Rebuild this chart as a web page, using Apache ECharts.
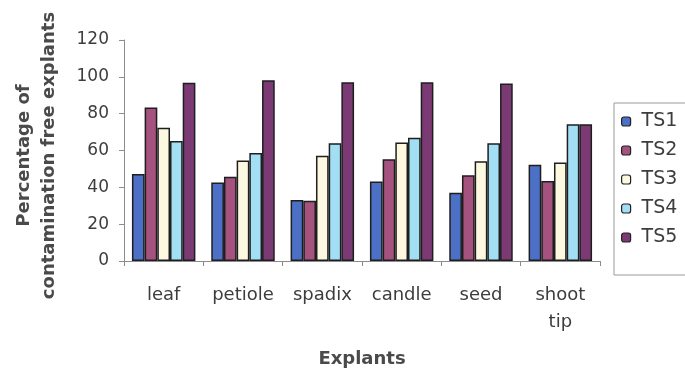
<!DOCTYPE html>
<html>
<head>
<meta charset="utf-8">
<script src="https://cdn.jsdelivr.net/npm/echarts@6/dist/echarts.min.js"></script>
<style>
  html, body { margin: 0; padding: 0; background: #ffffff; }
  #chart { width: 685px; height: 371px; }
</style>
</head>
<body>
<div id="chart"></div>
<script>
// Explant types on the x axis
const categories = ['leaf', 'petiole', 'spadix', 'candle', 'seed', 'shoot\ntip'];

// Percentage of contamination-free explants per sterilisation treatment
const ts1 = [47.3, 42.6, 33.1, 43.1, 37.1, 52.2];
const ts2 = [83.3, 45.8, 32.7, 55.3, 46.6, 43.5];
const ts3 = [72.4, 54.6, 57.1, 64.4, 54.2, 53.5];
const ts4 = [65.1, 58.6, 64.0, 66.9, 64.0, 74.2];
const ts5 = [96.8, 98.2, 97.1, 97.1, 96.4, 74.2];

const yTicks = [0, 20, 40, 60, 80, 100, 120];

const seriesNames = ['TS1', 'TS2', 'TS3', 'TS4', 'TS5'];
const seriesData = [ts1, ts2, ts3, ts4, ts5];
const seriesColors = ['#4b70c6', '#a5527e', '#fdf9e0', '#a2def4', '#7b3a74'];

const textColor = '#3d3d3d';
const fontFamily = '"DejaVu Sans", sans-serif';

const chart = echarts.init(document.getElementById('chart'), null, { renderer: 'canvas' });

chart.setOption({
  backgroundColor: '#ffffff',
  animation: false,
  textStyle: { fontFamily: fontFamily, color: textColor },
  grid: { left: 124, right: 85, top: 40, bottom: 110, containLabel: false, outerBoundsMode: 'none' },
  legend: {
    orient: 'vertical',
    left: 614,
    top: 103,
    width: 120,
    padding: [9, 60, 28, 7],
    itemWidth: 9,
    itemHeight: 9,
    itemGap: 10,
    borderColor: '#9a9a9a',
    borderWidth: 1,
    data: seriesNames,
    textStyle: { fontFamily: fontFamily, fontSize: 19, color: textColor, padding: [0, 0, 0, 6] },
    itemStyle: { borderColor: '#222', borderWidth: 1.2 }
  },
  xAxis: {
    type: 'category',
    data: categories,
    name: 'Explants',
    nameLocation: 'middle',
    nameGap: 89,
    nameTextStyle: { fontFamily: fontFamily, fontSize: 18, fontWeight: 'bold', color: '#4a4a4a' },
    axisLine: { lineStyle: { color: '#8c8c8c', width: 1 } },
    axisTick: { show: true, alignWithLabel: false, length: 5, lineStyle: { color: '#8c8c8c' } },
    axisLabel: { interval: 0, hideOverlap: false, fontFamily: fontFamily, fontSize: 18, color: textColor, margin: 21, lineHeight: 27 }
  },
  yAxis: {
    type: 'value',
    min: yTicks[0],
    max: yTicks[yTicks.length - 1],
    interval: yTicks[1] - yTicks[0],
    name: 'Percentage of\ncontamination free explants',
    nameLocation: 'middle',
    nameRotate: 90,
    nameGap: 62,
    nameTextStyle: { fontFamily: fontFamily, fontSize: 18, fontWeight: 'bold', color: '#4a4a4a', lineHeight: 25, padding: [0, 10, 0, 0] },
    splitLine: { show: false },
    axisLine: { show: true, lineStyle: { color: '#8c8c8c', width: 1 } },
    axisTick: { show: true, length: 5, lineStyle: { color: '#8c8c8c' } },
    axisLabel: { fontFamily: fontFamily, fontSize: 17, color: textColor, margin: 15 }
  },
  series: seriesNames.map((name, i) => ({
    name: name,
    type: 'bar',
    data: seriesData[i],
    barGap: '0%',
    barCategoryGap: '20%',
    itemStyle: { color: seriesColors[i], borderColor: '#1e1e1e', borderWidth: 1.5 }
  }))
});
</script>
</body>
</html>
